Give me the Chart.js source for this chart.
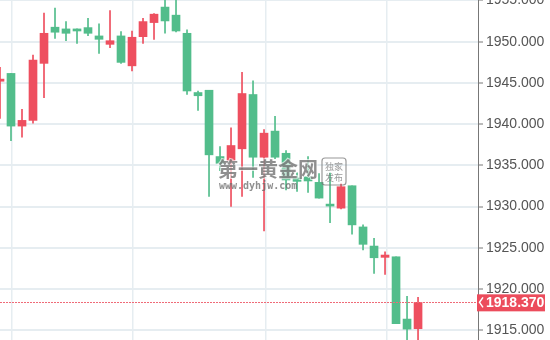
<!DOCTYPE html>
<html>
<head>
<meta charset="utf-8">
<script src="https://cdn.jsdelivr.net/npm/chart.js@4"></script>
<style>
  html, body { margin: 0; padding: 0; background: #fff; }
</style>
</head>
<body>
<canvas id="chart" width="550" height="340"></canvas>
<script>
  "use strict";

  // OHLC de cada vela (de izquierda a derecha)
  const opens = [1945.20, 1946.15, 1939.76, 1940.45, 1947.37, 1951.76, 1951.55, 1951.55, 1951.71, 1950.70,
    1949.68, 1950.70, 1947.07, 1950.61, 1952.32, 1954.20, 1953.22, 1951.02, 1943.83, 1944.11,
    1936.06, 1935.57, 1937.00, 1943.59, 1935.98, 1939.15, 1936.46, 1933.46, 1933.60, 1932.93,
    1930.09, 1929.80, 1932.52, 1927.52, 1925.20, 1923.83, 1923.90, 1916.34, 1915.17];
  const highs = [1946.90, 1946.15, 1941.80, 1948.38, 1953.46, 1954.07, 1952.44, 1951.55, 1952.85, 1952.16,
    1953.78, 1951.22, 1951.30, 1952.85, 1953.40, 1955.50, 1955.50, 1951.43, 1944.02, 1944.11,
    1937.28, 1939.56, 1946.27, 1945.24, 1939.32, 1940.94, 1936.80, 1934.10, 1936.06, 1933.99,
    1934.07, 1932.73, 1932.52, 1927.77, 1926.15, 1924.51, 1923.90, 1919.11, 1918.99];
  const lows = [1940.70, 1938.00, 1938.40, 1940.12, 1943.22, 1950.41, 1950.12, 1949.80, 1950.73, 1948.59,
    1949.27, 1947.37, 1946.46, 1949.80, 1950.29, 1951.02, 1951.20, 1943.59, 1941.67, 1931.22,
    1934.35, 1930.00, 1931.22, 1933.54, 1927.04, 1935.80, 1932.00, 1931.83, 1931.70, 1931.02,
    1928.05, 1929.70, 1926.63, 1924.72, 1921.88, 1921.76, 1915.78, 1913.30, 1913.20];
  const closes = [1945.46, 1939.76, 1940.45, 1947.77, 1951.02, 1951.15, 1951.02, 1951.30, 1951.02, 1950.29,
    1950.12, 1947.49, 1950.54, 1952.44, 1953.34, 1952.52, 1951.30, 1944.02, 1943.44, 1936.27,
    1935.24, 1937.40, 1943.71, 1935.98, 1938.90, 1935.98, 1933.22, 1933.05, 1933.10, 1931.02,
    1930.05, 1932.40, 1927.77, 1925.41, 1923.78, 1924.11, 1915.78, 1915.12, 1918.37];

  // Etiquetas del eje de precios y lineas verticales de la rejilla
  const yTicks = [1915, 1920, 1925, 1930, 1935, 1940, 1945, 1950, 1955];
  const xGrid = [1.1, 12.1, 24.2, 35.2];

  const lastPrice = closes[closes.length - 1];

  const verde = "#52bd8b";
  const rojo = "#ee4f5f";
  const colores = opens.map((o, i) => closes[i] >= o ? rojo : verde);

  const cuerpos = opens.map((o, i) => ({ x: i, y: [o, closes[i]] }));
  const mechas = opens.map((o, i) => ({ x: i, y: [lows[i], highs[i]] }));

  // linea de precio actual, etiqueta roja y marca de agua
  const extras = {
    id: "extras",
    afterDatasetsDraw(chart) {
      const ctx = chart.ctx;
      const area = chart.chartArea;
      const y = Math.round(chart.scales.y.getPixelForValue(lastPrice)) + 0.5;
      ctx.save();
      ctx.strokeStyle = "#ef6b78";
      ctx.lineWidth = 1;
      ctx.setLineDash([2, 1]);
      ctx.beginPath();
      ctx.moveTo(area.left, y);
      ctx.lineTo(area.right, y);
      ctx.stroke();
      ctx.restore();
    },
    afterDraw(chart) {
      const ctx = chart.ctx;
      const area = chart.chartArea;
      const y = chart.scales.y.getPixelForValue(lastPrice);
      ctx.save();
      ctx.fillStyle = "#ec4c5c";
      ctx.fillRect(area.right - 1, y - 8, 68, 17);
      ctx.fillStyle = "#fff";
      ctx.font = "bold 14px 'Liberation Sans', Arial, sans-serif";
      ctx.textBaseline = "middle";
      ctx.fillText(lastPrice.toFixed(3), area.right + 8, y + 1);
      ctx.strokeStyle = "#fff";
      ctx.lineWidth = 1.5;
      ctx.beginPath();
      ctx.moveTo(area.right + 5, y - 5);
      ctx.lineTo(area.right + 1.5, y);
      ctx.lineTo(area.right + 5, y + 5);
      ctx.stroke();

      // marca de agua
      ctx.globalAlpha = 0.75;
      ctx.fillStyle = "#6a6a6a";
      ctx.strokeStyle = "rgba(255,255,255,0.9)";
      ctx.lineWidth = 2;
      ctx.textBaseline = "alphabetic";
      ctx.font = "bold 20px 'Noto Sans CJK SC', sans-serif";
      ctx.strokeText("第一黄金网", 218, 177);
      ctx.fillText("第一黄金网", 218, 177);
      ctx.font = "bold 10px 'DejaVu Sans Mono', monospace";
      ctx.fillText("www.dyhjw.com", 219, 189);
      ctx.lineWidth = 1.2;
      ctx.strokeStyle = "#777";
      ctx.beginPath();
      ctx.roundRect(322, 158, 24, 27, 3);
      ctx.stroke();
      ctx.font = "9px 'Noto Sans CJK SC', sans-serif";
      ctx.fillStyle = "#777";
      ctx.fillText("独家", 325, 170);
      ctx.fillText("发布", 325, 181);
      ctx.restore();
    }
  };

  new Chart(document.getElementById("chart"), {
    type: "bar",
    data: {
      datasets: [
        {
          label: "mechas",
          data: mechas,
          backgroundColor: colores,
          barThickness: 1,
          grouped: false,
          order: 2
        },
        {
          label: "cuerpos",
          data: cuerpos,
          backgroundColor: colores,
          barThickness: 8,
          minBarLength: 2,
          grouped: false,
          order: 1
        }
      ]
    },
    options: {
      responsive: false,
      animation: false,
      layout: { padding: 0 },
      plugins: {
        legend: { display: false },
        title: { display: false },
        tooltip: { enabled: false }
      },
      scales: {
        x: {
          type: "linear",
          min: 0,
          max: 43.45,
          offset: false,
          border: { display: false },
          grid: { color: "#e6edf1", lineWidth: 1.5, drawTicks: false, offset: false },
          ticks: { display: false },
          afterBuildTicks: (scale) => { scale.ticks = xGrid.map(v => ({ value: v })); },
          afterFit: (scale) => { scale.height = 0; }
        },
        y: {
          position: "right",
          min: 1913.8,
          max: 1955.06,
          border: { display: true, color: "#777", width: 1 },
          grid: { color: "#e6edf1", lineWidth: 2, tickColor: "#777", tickLength: 5, tickWidth: 1 },
          ticks: {
            color: "#555",
            padding: 3,
            font: { family: "'Liberation Sans', Arial, sans-serif", size: 14 },
            callback: (v) => v.toFixed(3)
          },
          afterBuildTicks: (scale) => { scale.ticks = yTicks.map(v => ({ value: v })); },
          afterFit: (scale) => {
            scale.width = 72;
            scale.paddingTop = 0;
            scale.paddingBottom = 0;
          }
        }
      }
    },
    plugins: [extras]
  });
</script>
</body>
</html>
